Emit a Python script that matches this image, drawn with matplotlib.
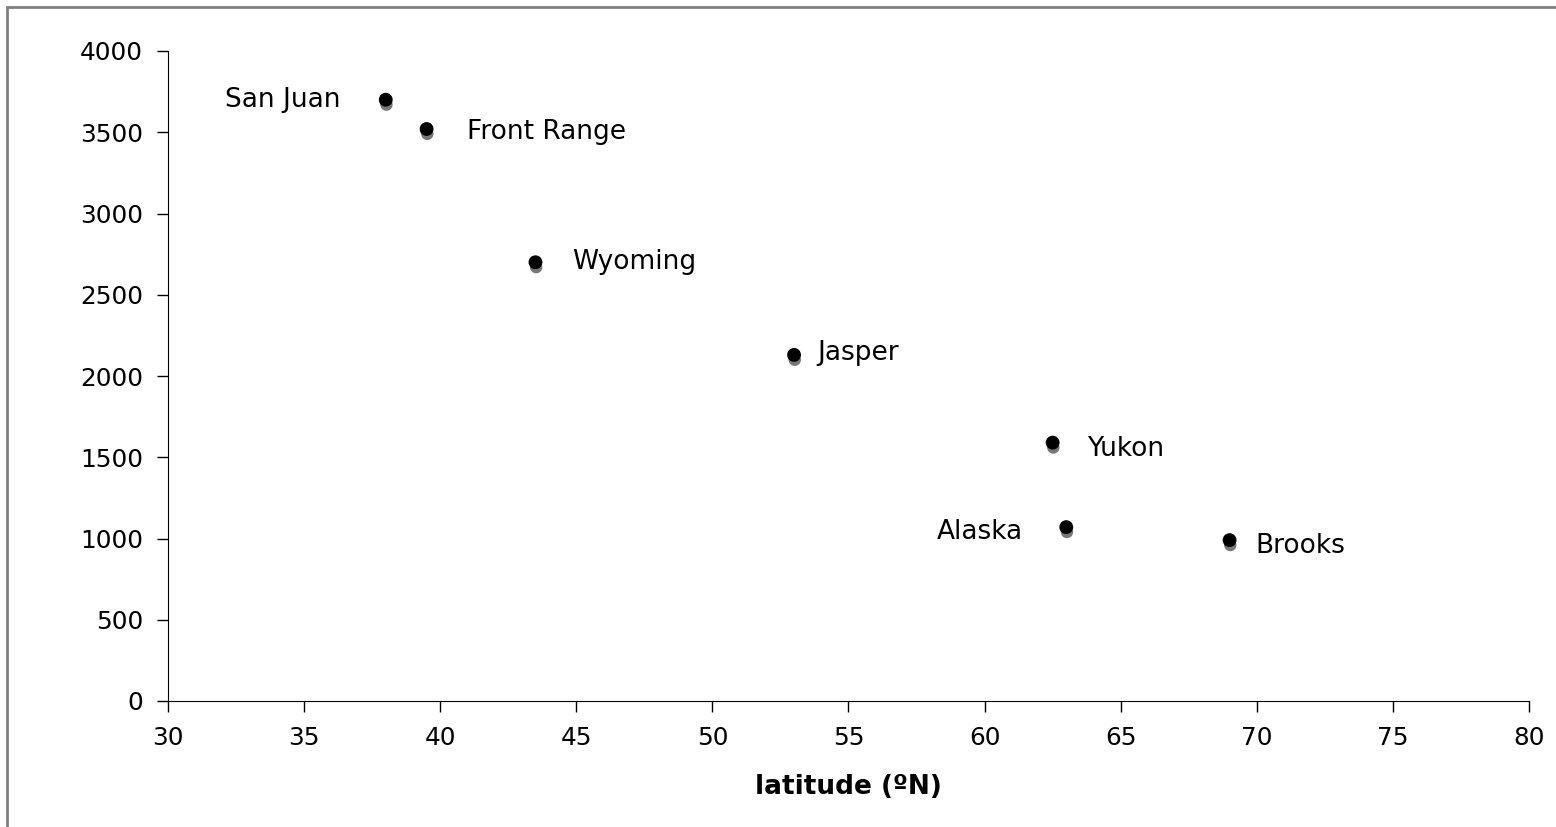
import matplotlib
matplotlib.use("Agg")
import matplotlib.pyplot as plt
import matplotlib.patheffects as pe
from matplotlib.patches import Rectangle

plt.rcParams['font.family'] = ['DejaVu Sans']

names = ["San Juan", "Front Range", "Wyoming", "Jasper", "Yukon", "Alaska", "Brooks"]
latitude = [38.0, 39.5, 43.5, 53.0, 62.5, 63.0, 69.0]
elevation = [3700, 3520, 2700, 2130, 1590, 1070, 990]
# label offsets from the point, in pixels (x right, y down)
label_dx = [-45, 40, 37, 23, 34, -43, 26]
label_dy = [0, 3, 0, -2, 6, 5, 6]

fig = plt.figure(figsize=(15.56, 8.27), dpi=100)
ax = fig.add_axes([168/1556, 1 - 701/827, (1529-168)/1556, (701-51)/827])

ax.scatter(latitude, elevation, s=80, color='black', zorder=3,
           path_effects=[pe.SimplePatchShadow(offset=(0.5, -3.5), shadow_rgbFace='#777777', alpha=1.0),
                         pe.Normal()])

pt = 72 / 100
for n, x, y, dx, dy in zip(names, latitude, elevation, label_dx, label_dy):
    ax.annotate(n, (x, y), xytext=(dx * pt, -dy * pt), textcoords='offset points',
                ha='left' if dx > 0 else 'right', va='center', fontsize=19)

ax.set_xlim(30, 80)
ax.set_ylim(0, 4000)
ax.set_xticks(range(30, 81, 5))
ax.set_yticks(range(0, 4001, 500))
ax.tick_params(direction='out', length=8, width=1, labelsize=17.8, pad=10)
ax.spines['top'].set_visible(False)
ax.spines['right'].set_visible(False)
ax.set_xlabel("latitude (ºN)", fontsize=19, fontweight='bold', labelpad=17)

fig.patches.append(Rectangle((7/1556, -0.1), 1.2, 1 - 7/827 + 0.1, transform=fig.transFigure,
                             fill=False, edgecolor='#808080', linewidth=2))

fig.savefig("out.png", dpi=100)
